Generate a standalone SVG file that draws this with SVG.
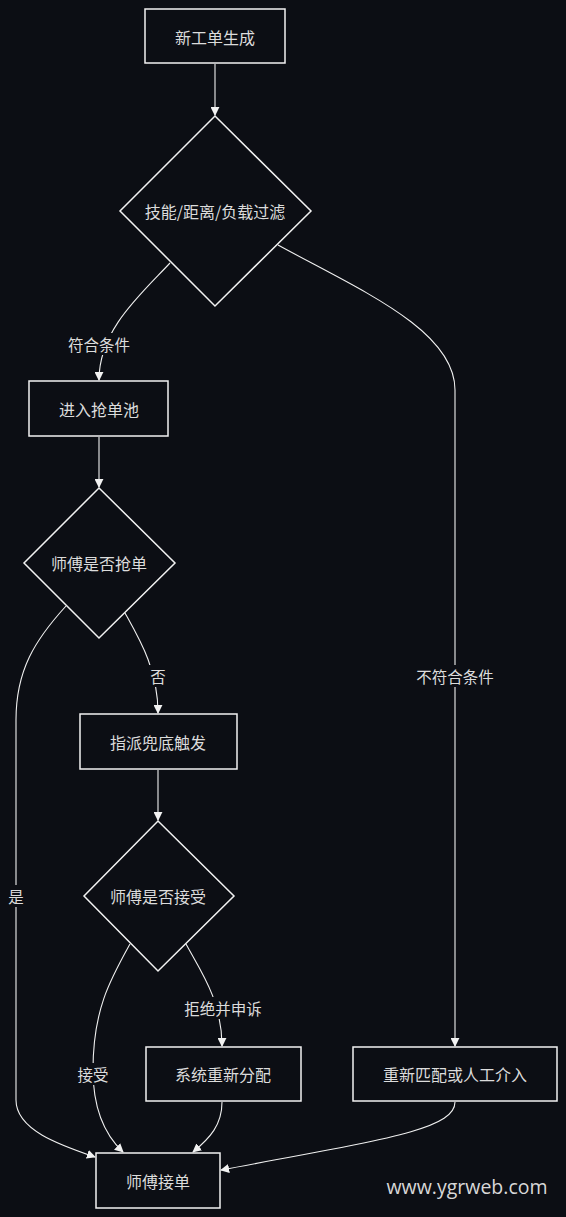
<svg xmlns="http://www.w3.org/2000/svg" width="566" height="1217" viewBox="0 0 566 1217">
<defs>
<marker id="arr" viewBox="0 0 10 10" refX="9" refY="5" markerWidth="9" markerHeight="9" markerUnits="userSpaceOnUse" orient="auto">
<path d="M0,0 L10,5 L0,10 Z" fill="#f2f2f2"/>
</marker>
<style>
.n{fill:#0c0e14;stroke:#f2f2f2;stroke-width:1.5}
.t{font-family:"Noto Sans CJK SC","Noto Sans",sans-serif;font-size:16px;fill:#dcdcdc;text-anchor:middle;dominant-baseline:central}
.e{fill:none;stroke:#f0f0f0;stroke-width:1.1;marker-end:url(#arr)}
.lb{fill:#0c0e14}
.l{font-family:"Noto Sans CJK SC","Noto Sans",sans-serif;font-size:15.5px;fill:#dcdcdc;text-anchor:middle;dominant-baseline:central}
</style>
</defs>
<rect width="566" height="1217" fill="#0c0e14"/>
<g id="edges">
<path class="e" d="M215,64 L215,115"/>
<path class="e" d="M170,263 C140,295 99,330 99,380"/>
<path class="e" d="M278,245 C360,290 455,330 455,390 L455,1046"/>
<path class="e" d="M99,437 L99,487"/>
<path class="e" d="M66,606 C35,640 16,670 16,720 L16,1100 C16,1130 60,1145 95,1157"/>
<path class="e" d="M125,613 C140,640 158,670 158,713"/>
<path class="e" d="M158,770 L158,820"/>
<path class="e" d="M130,944 C110,980 93,1010 93,1070 C93,1110 105,1135 123,1152"/>
<path class="e" d="M186,944 C200,970 222,1000 222,1046"/>
<path class="e" d="M222,1102 C222,1125 210,1138 193,1152"/>
<path class="e" d="M455,1102 C455,1130 380,1140 221,1170"/>
</g>
<g id="labels">
<rect class="lb" x="64" y="333" width="70" height="22"/><text class="l" x="99" y="344">符合条件</text>
<rect class="lb" x="148" y="665" width="20" height="22"/><text class="l" x="158" y="676">否</text>
<rect class="lb" x="6" y="885" width="20" height="22"/><text class="l" x="16" y="896">是</text>
<rect class="lb" x="76" y="1063" width="34" height="22"/><text class="l" x="93" y="1074">接受</text>
<rect class="lb" x="182" y="997" width="82" height="22"/><text class="l" x="223" y="1008">拒绝并申诉</text>
<rect class="lb" x="413" y="665" width="84" height="22"/><text class="l" x="455" y="676">不符合条件</text>
</g>
<g id="n1"><rect class="n" x="145" y="9" width="140" height="54"/><text class="t" x="215" y="37">新工单生成</text></g>
<g id="n2"><path class="n" d="M215,116 L311,211 L215,306 L120,211 Z"/><text class="t" x="215" y="211">技能/距离/负载过滤</text></g>
<g id="n3"><rect class="n" x="29" y="381" width="139" height="55"/><text class="t" x="99" y="409">进入抢单池</text></g>
<g id="n4"><path class="n" d="M99,488 L175,563 L99,638 L24,563 Z"/><text class="t" x="99" y="563">师傅是否抢单</text></g>
<g id="n5"><rect class="n" x="80" y="714" width="157" height="55"/><text class="t" x="158" y="742">指派兜底触发</text></g>
<g id="n6"><path class="n" d="M158,821 L234,896 L158,971 L84,896 Z"/><text class="t" x="158" y="896">师傅是否接受</text></g>
<g id="n7"><rect class="n" x="146" y="1047" width="155" height="54"/><text class="t" x="223" y="1074">系统重新分配</text></g>
<g id="n8"><rect class="n" x="353" y="1047" width="204" height="54"/><text class="t" x="455" y="1074">重新匹配或人工介入</text></g>
<g id="n9"><rect class="n" x="96" y="1153" width="124" height="55"/><text class="t" x="158" y="1181">师傅接单</text></g>
<text x="467" y="1186" style="font-family:'Open Sans','Noto Sans',sans-serif;font-size:19.5px;fill:#d8d8d8;text-anchor:middle;dominant-baseline:central">www.ygrweb.com</text>
</svg>
